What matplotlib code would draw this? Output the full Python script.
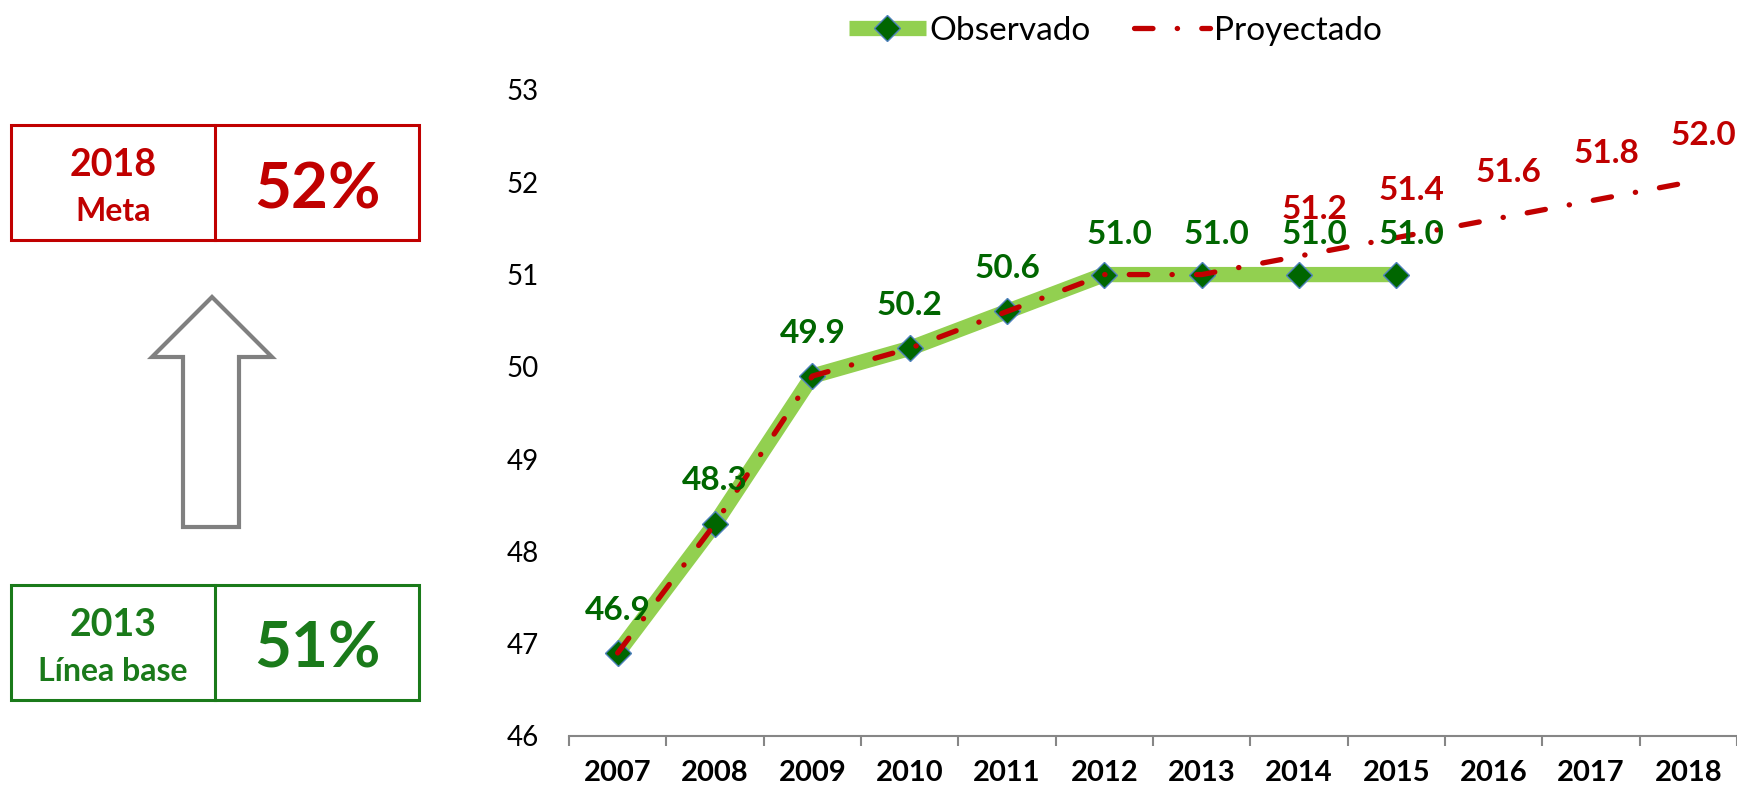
import numpy as np
import matplotlib
matplotlib.use("Agg")
import matplotlib.pyplot as plt
from matplotlib.patches import Rectangle, Polygon

plt.rcParams['font.family'] = ['Lato', 'DejaVu Sans']

# datos
anios = ['2007', '2008', '2009', '2010', '2011', '2012',
         '2013', '2014', '2015', '2016', '2017', '2018']
observado = [46.9, 48.3, 49.9, 50.2, 50.6, 51.0, 51.0, 51.0, 51.0]
proyectado = [46.9, 48.3, 49.9, 50.2, 50.6, 51.0, 51.0, 51.2, 51.4, 51.6, 51.8, 52.0]
proy_etiqueta_desde = 7   # etiquetas rojas a partir de 2014
meta_anio, meta_texto, meta_valor = '2018', 'Meta', '52%'
base_anio, base_texto, base_valor = '2013', 'Línea base', '51%'

VERDE_LINEA = '#92D050'
VERDE = '#006600'
ROJO = '#C00000'
GRIS = '#868686'

fig = plt.figure(figsize=(17.37, 7.89), dpi=100)

# capa de fondo en pixeles para los recuadros y la flecha
ov = fig.add_axes([0, 0, 1, 1])
ov.set_xlim(0, 1737)
ov.set_ylim(789, 0)
ov.axis('off')

def recuadro(y0, color, anio, texto, valor):
    ov.add_patch(Rectangle((11, y0), 408, 115, fill=False, ec=color, lw=2.2))
    ov.plot([215, 215], [y0, y0 + 115], color=color, lw=2.2)
    ov.text(113, y0 + 51, anio, ha='center', va='baseline', fontsize=27,
            fontweight='bold', color=color)
    ov.text(113, y0 + 96, texto, ha='center', va='baseline', fontsize=23,
            fontweight='bold', color=color)
    ov.text(317, y0 + 83, valor, ha='center', va='baseline', fontsize=46,
            fontweight='bold', color=color)

recuadro(125, ROJO, meta_anio, meta_texto, meta_valor)
recuadro(585, '#1A7A1A', base_anio, base_texto, base_valor)

flecha = [(212, 297), (272, 357), (239, 357), (239, 527),
          (183, 527), (183, 357), (152, 357)]
ov.add_patch(Polygon(flecha, closed=True, fc='white', ec='#808080', lw=3,
                     joinstyle='miter'))

# grafico principal
ax = fig.add_axes([569 / 1737, 53 / 789, 1168 / 1737, 646 / 789])
x = np.arange(len(anios))

ax.plot(x[:len(observado)], observado, color=VERDE_LINEA, lw=11,
        solid_capstyle='butt', marker='D', ms=13.5, mfc=VERDE, mec='#4F81BD',
        mew=1, zorder=2, label='Observado')
ax.plot(x, proyectado, color=ROJO, lw=3.8, dashes=(3.5, 4.6, 0.05, 4.6),
        dash_capstyle='round', zorder=3, label='Proyectado')

for i, v in enumerate(observado):
    dx, dy = (0, 24) if i < 5 else (11, 22)
    ax.annotate(f'{v:.1f}', (x[i], v), xytext=(dx, dy), textcoords='offset points',
                ha='center', va='baseline', fontsize=24, fontweight='bold',
                color=VERDE, zorder=4)
for i in range(proy_etiqueta_desde, len(proyectado)):
    ax.annotate(f'{proyectado[i]:.1f}', (x[i], proyectado[i]), xytext=(11, 27),
                textcoords='offset points', ha='center', va='baseline',
                fontsize=24, fontweight='bold', color=ROJO, zorder=4,
                annotation_clip=False)

ax.set_xlim(-0.5, 11.5)
ax.set_ylim(46, 53)
ax.set_yticks(range(46, 54))
ax.set_xticks(x, anios)
ax.set_xticks(np.arange(-0.5, 12, 1), minor=True)
for s in ['top', 'right', 'left']:
    ax.spines[s].set_visible(False)
ax.spines['bottom'].set_color(GRIS)
ax.spines['bottom'].set_linewidth(1.5)
ax.tick_params(axis='y', length=0, pad=22, labelsize=20)
ax.tick_params(axis='x', which='major', length=0, pad=17, labelsize=21)
ax.tick_params(axis='x', which='minor', length=7, width=1.5, color=GRIS)
for t in ax.get_xticklabels():
    t.set_fontweight('bold')
ax.set_facecolor('none')

ax.legend(loc='center', bbox_to_anchor=(0.642, 0.961), bbox_transform=fig.transFigure,
          ncol=2, frameon=False, fontsize=24, handlelength=2.3, handletextpad=0.1,
          columnspacing=1.3)

fig.savefig('out.png', dpi=100)
